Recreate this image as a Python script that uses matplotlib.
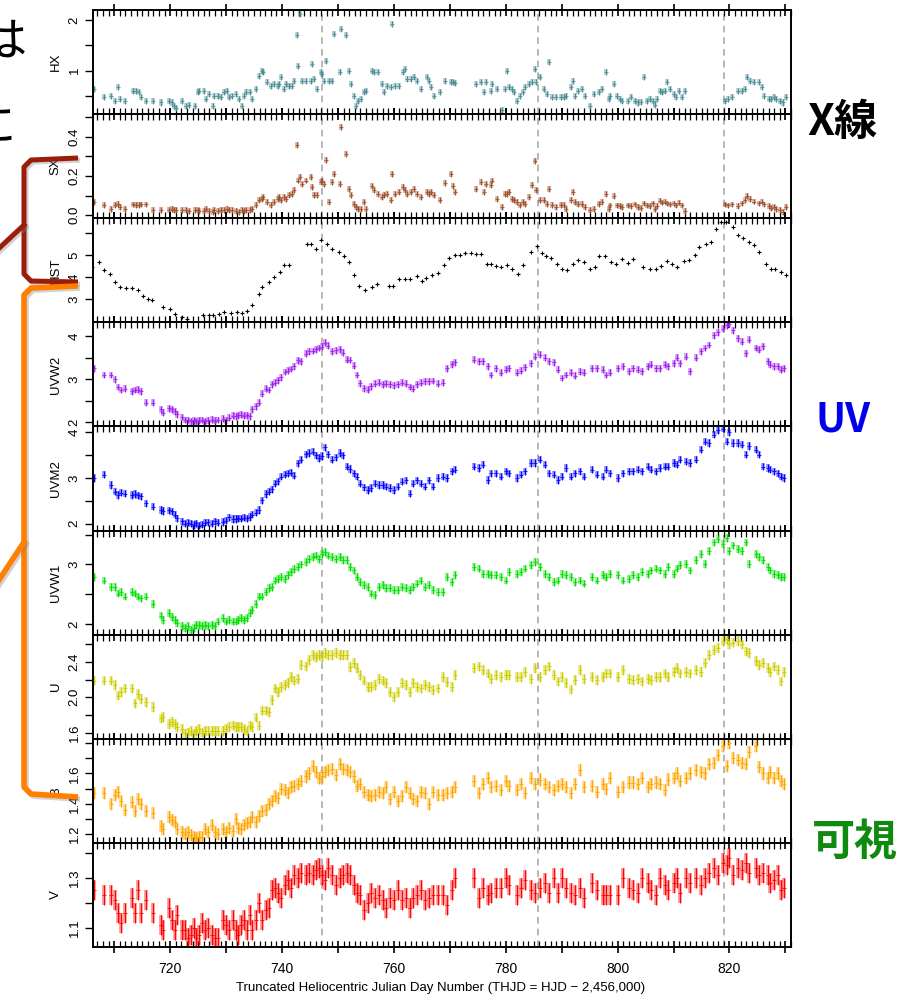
import matplotlib
matplotlib.use('Agg')
import matplotlib.pyplot as plt
import matplotlib.patheffects as pe
from matplotlib.ticker import MultipleLocator

plt.rcParams['font.family'] = ['Liberation Sans', 'DejaVu Sans']

# ---- X-ray (HX / SX share the same epochs) ----
t_x = [706.4, 708.2, 709.5, 710.2, 710.6, 711.0, 712.0, 713.3, 713.9, 714.5,
       714.8, 715.7, 717.0, 718.3, 719.8, 720.3, 720.7, 721.1, 722.2, 722.8,
       723.4, 724.5, 724.9, 725.2, 726.1, 726.4, 727.0, 727.6, 727.9, 728.5,
       729.1, 729.6, 730.1, 730.5, 731.1, 731.7, 732.3, 732.8, 733.2, 733.6,
       734.2, 734.7, 735.3, 735.9, 736.4, 736.6, 737.4, 738.0, 738.6, 739.2,
       739.5, 739.9, 740.4, 740.7, 741.3, 741.7, 742.1, 742.6, 742.9, 743.3,
       743.6, 744.3, 745.1, 745.4, 745.8, 746.3, 746.9, 747.1, 747.5, 747.9,
       748.4, 748.9, 749.3, 750.3, 750.5, 751.4, 751.9, 752.3, 752.9, 753.2,
       753.6, 754.1, 754.7, 755.1, 756.0, 756.4, 757.2, 757.9, 758.2, 758.8,
       759.4, 759.7, 760.2, 760.9, 761.6, 762.0, 762.4, 763.0, 763.6, 764.2,
       764.8, 765.9, 766.3, 766.6, 767.2, 768.3, 769.2, 770.2, 770.5, 770.9,
       774.6, 775.5, 776.1, 776.4, 777.3, 777.6, 778.5, 779.3, 779.8, 780.3,
       780.5, 781.1, 781.4, 782.0, 782.6, 783.0, 783.5, 784.1, 784.7, 785.2,
       785.4, 786.2, 786.8, 787.4, 787.7, 788.3, 788.9, 789.8, 790.4, 790.7,
       791.6, 792.0, 792.4, 793.0, 793.6, 794.2, 795.1, 795.7, 796.6, 797.2,
       797.9, 798.4, 798.7, 799.3, 799.9, 800.5, 800.8, 801.8, 802.4, 803.1,
       803.7, 804.2, 804.8, 805.2, 805.8, 806.4, 806.7, 807.0, 807.6, 807.9,
       808.4, 808.9, 809.4, 810.0, 810.4, 810.9, 811.5, 812.1,
       819.2, 819.8, 820.4, 821.6, 822.2, 822.8, 823.1, 823.7, 824.3, 825.2,
       825.8, 826.2, 827.0, 827.5, 828.0, 828.4, 829.0, 829.6, 830.1]

hx = [0.63, 0.47, 0.50, 0.40, 0.67, 0.43, 0.40, 0.60, 0.60, 0.57,
      0.47, 0.40, 0.40, 0.37, 0.40, 0.37, 0.30, 0.27, 0.40, 0.30,
      0.32, 0.30, 0.57, 0.60, 0.60, 0.43, 0.53, 0.30, 0.50, 0.50,
      0.47, 0.57, 0.60, 0.47, 0.50, 0.53, 0.43, 0.30, 0.50, 0.57,
      0.57, 0.43, 0.63, 0.90, 1.00, 0.97, 0.77, 0.70, 0.73, 0.70,
      0.73, 0.87, 0.63, 0.73, 0.70, 0.70, 0.80, 1.70, 1.10, 2.12,
      0.80, 0.80, 0.80, 1.13, 0.83, 0.63, 0.97, 0.93, 0.80, 1.20,
      0.80, 0.80, 1.73, 0.97, 1.83, 1.70, 1.00, 0.73, 0.50, 0.30,
      0.40, 0.43, 0.57, 0.60, 1.00, 0.97, 0.97, 0.73, 0.57, 0.70,
      0.67, 1.93, 0.70, 0.70, 0.97, 1.03, 0.83, 0.83, 0.88, 0.80,
      0.63, 0.88, 0.80, 0.67, 0.50, 0.57, 0.80, 0.77, 0.77, 0.75,
      0.73, 0.77, 0.57, 0.77, 0.60, 0.73, 0.63, 0.23, 0.63, 1.00,
      0.67, 0.63, 0.57, 0.40, 0.50, 0.57, 0.67, 0.73, 0.77, 1.03,
      0.77, 0.87, 0.63, 0.53, 1.17, 0.47, 0.47, 0.47, 0.47, 0.50,
      0.67, 0.80, 0.50, 0.60, 0.63, 0.50, 0.30, 0.53, 0.57, 0.63,
      0.97, 0.43, 0.50, 0.73, 0.50, 0.43, 0.40, 0.40, 0.47, 0.40,
      0.37, 0.38, 0.87, 0.40, 0.43, 0.40, 0.33, 0.43, 0.60, 0.57,
      0.60, 0.77, 0.63, 0.53, 0.47, 0.60, 0.47, 0.60,
      0.40, 0.43, 0.47, 0.60, 0.60, 0.63, 0.87, 0.80, 0.77, 0.77,
      0.67, 0.50, 0.43, 0.43, 0.47, 0.43, 0.40, 0.37, 0.47]

sx = [.068, .051, .034, .051, .059, .042, .034, .055, .051, .051,
      .055, .055, .029, .029, .029, .034, .025, .025, .029, .025,
      .022, .025, .025, .022, .022, .034, .020, .017, .029, .022,
      .029, .025, .034, .029, .025, .022, .017, .025, .022, .029,
      .025, .034, .051, .076, .084, .093, .068, .051, .068, .084,
      .093, .076, .093, .084, .101, .110, .127, .360, .177, .194,
      .160, .177, .194, .144, .101, .101, .169, .177, .160, .280,
      .068, .169, .210, .160, .450, .310, .135, .101, .059, .042,
      .034, .034, .068, .034, .150, .127, .110, .093, .101, .110,
      .076, .210, .110, .118, .144, .127, .110, .118, .135, .110,
      .093, .118, .110, .118, .101, .076, .164, .210, .150, .120,
      .135, .169, .118, .160, .152, .177, .084, .042, .110, .110,
      .118, .084, .076, .068, .051, .068, .059, .093, .152, .278,
      .127, .076, .076, .059, .135, .051, .042, .051, .051, .034,
      .076, .118, .068, .059, .059, .042, .025, .034, .059, .068,
      .110, .034, .050, .100, .050, .045, .040, .050, .045, .055,
      .040, .035, .060, .050, .045, .060, .030, .045, .075, .065,
      .070, .060, .055, .060, .050, .065, .050, .020,
      .055, .050, .055, .045, .060, .080, .100, .085, .070, .060,
      .070, .055, .045, .035, .040, .030, .025, .015, .040]

# ---- HST ----
t_hst = [706.1, 707.2, 708.2, 709.2, 710.2, 711.1, 712.1, 713.2, 714.2, 715.1,
         716.0, 716.7, 718.7, 720.0, 720.9, 722.1, 723.0, 725.9, 726.9, 727.7,
         728.8, 729.6, 730.8, 731.9, 732.8, 733.7, 734.7, 735.8, 736.4, 737.7,
         738.6, 739.6, 740.4, 741.3, 744.4, 745.1, 746.0, 747.0, 748.1, 749.0,
         750.1, 751.1, 751.9, 752.9, 753.8, 754.9, 756.0, 756.9, 759.1, 759.9,
         760.9, 762.0, 762.9, 764.1, 765.0, 765.8, 766.9, 767.9, 768.9, 769.9,
         770.9, 771.8, 772.8, 773.8, 774.6, 775.5, 776.7, 777.3, 778.3, 779.2,
         780.2, 781.1, 782.1, 783.1, 784.5, 785.5, 786.5, 787.2, 788.0, 789.1,
         790.1, 791.0, 792.0, 792.9, 793.9, 795.0, 795.9, 796.6, 797.8, 798.9,
         799.7, 800.8, 801.8, 802.7, 804.6, 805.8, 806.8, 807.8, 808.8, 809.7,
         810.6, 811.8, 812.7, 813.9, 814.6, 815.8, 816.7, 817.6, 818.5, 819.3,
         820.7, 821.6, 822.5, 823.5, 824.3, 825.3, 826.5, 827.4, 828.1, 829.2, 830.1]

hst = [4.48, 4.71, 4.33, 4.15, 3.76, 3.55, 3.50, 3.53, 3.44, 3.14,
       3.03, 2.98, 2.65, 2.57, 2.35, 2.17, 2.12, 2.27, 2.27, 2.27,
       2.35, 2.42, 2.38, 2.42, 2.38, 2.45, 2.73, 3.23, 3.56, 3.79,
       4.02, 4.24, 4.55, 4.55, 5.49, 5.53, 5.30, 5.71, 5.53, 5.30,
       5.15, 4.95, 4.70, 4.09, 3.59, 3.41, 3.56, 3.71, 3.59, 3.59,
       3.90, 3.94, 3.94, 4.05, 3.83, 3.97, 4.09, 4.17, 4.55, 4.88,
       5.00, 5.00, 5.08, 5.12, 5.05, 5.05, 4.62, 4.62, 4.52, 4.45,
       4.55, 4.36, 4.15, 4.55, 5.15, 5.41, 5.08, 4.95, 4.89, 4.62,
       4.39, 4.33, 4.60, 4.80, 4.70, 4.39, 4.48, 4.95, 4.95, 4.70,
       4.62, 4.85, 4.65, 4.83, 4.48, 4.36, 4.36, 4.50, 4.74, 4.62,
       4.48, 4.74, 4.80, 5.03, 5.35, 5.53, 5.60, 6.21, 6.52, 6.52,
       6.26, 5.91, 5.76, 5.60, 5.45, 5.15, 4.62, 4.39, 4.39, 4.24, 4.09]

# ---- Swift UVOT (all six filters share the epochs) ----
t_uv = [706.4, 708.2, 709.5, 710.2, 710.7, 711.2, 711.9, 713.2, 713.7, 714.2,
        714.7, 715.7, 717.0, 718.3, 718.7, 719.8, 720.3, 720.8, 721.3, 722.2,
        722.7, 723.2, 723.7, 724.2, 724.7, 725.2, 725.7, 726.2, 726.8, 727.4,
        728.0, 728.6, 729.4, 730.0, 730.6, 731.2, 731.7, 732.2, 732.7, 733.2,
        733.7, 734.2, 734.7, 735.3, 735.9, 736.5, 737.1, 737.6, 738.2, 738.7,
        739.3, 739.9, 740.5, 741.0, 741.6, 742.2, 742.8, 743.4, 744.2, 744.9,
        745.5, 746.0, 746.6, 747.1, 747.7, 748.3, 749.0, 749.6, 750.3, 750.9,
        751.6, 752.2, 752.8, 753.4, 754.0, 754.6, 755.3, 755.9, 756.6, 757.3,
        758.0, 758.6, 759.3, 760.0, 760.7, 761.4, 762.1, 762.8, 763.5, 764.2,
        764.9, 765.6, 766.3, 767.0, 767.8, 768.7, 769.5, 770.3, 771.0, 774.4,
        775.2, 775.9, 776.8, 777.4, 778.3, 779.2, 780.0, 780.6, 782.0, 782.8,
        783.5, 784.6, 785.3, 786.2, 787.0, 787.8, 788.6, 789.3, 790.0, 790.8,
        791.6, 792.4, 793.3, 794.0, 795.5, 796.4, 797.3, 798.0, 798.6, 800.0,
        801.0, 802.0, 802.8, 803.6, 804.4, 805.4, 806.0, 806.8, 807.6, 808.4,
        809.0, 810.0, 810.6, 811.2, 812.3, 813.0, 814.0, 814.9, 815.6, 816.3,
        817.2, 818.0, 818.8, 819.5, 820.0, 820.6, 821.5, 822.2, 822.9, 823.5,
        824.7, 825.3, 826.0, 826.8, 827.3, 828.0, 828.7, 829.3, 829.8]

uvw2 = [3.26, 3.10, 3.10, 3.00, 2.82, 2.75, 2.78, 2.72, 2.75, 2.76,
        2.72, 2.45, 2.45, 2.30, 2.22, 2.32, 2.30, 2.25, 2.18, 2.12,
        2.05, 2.05, 2.02, 2.04, 2.02, 2.03, 2.05, 2.02, 2.04, 2.06,
        2.03, 2.05, 2.08, 2.04, 2.10, 2.15, 2.14, 2.16, 2.17, 2.15,
        2.16, 2.14, 2.30, 2.37, 2.45, 2.66, 2.78, 2.75, 2.88, 2.92,
        2.98, 3.05, 3.17, 3.20, 3.24, 3.30, 3.44, 3.42, 3.60, 3.65,
        3.66, 3.70, 3.73, 3.76, 3.85, 3.78, 3.65, 3.68, 3.70, 3.62,
        3.46, 3.45, 3.32, 3.10, 2.91, 2.79, 2.76, 2.84, 2.90, 2.92,
        2.88, 2.90, 2.88, 2.86, 2.88, 2.92, 2.90, 2.82, 2.78, 2.88,
        2.92, 2.95, 2.95, 2.96, 2.90, 2.92, 3.26, 3.35, 3.40, 3.46,
        3.42, 3.42, 3.30, 3.10, 3.26, 3.15, 3.22, 3.26, 3.15, 3.20,
        3.28, 3.37, 3.53, 3.57, 3.50, 3.42, 3.40, 3.22, 3.03, 3.10,
        3.15, 3.08, 3.18, 3.15, 3.26, 3.26, 3.22, 3.10, 3.15, 3.26,
        3.30, 3.19, 3.26, 3.22, 3.19, 3.30, 3.34, 3.26, 3.26, 3.34,
        3.30, 3.37, 3.50, 3.37, 3.53, 3.19, 3.50, 3.65, 3.73, 3.80,
        4.03, 4.10, 4.18, 4.26, 4.30, 4.14, 3.96, 3.88, 3.61, 3.92,
        3.73, 3.69, 3.77, 3.42, 3.34, 3.30, 3.30, 3.22, 3.26]

uvm2 = [3.00, 3.07, 2.85, 2.70, 2.63, 2.68, 2.66, 2.63, 2.65, 2.62,
        2.60, 2.45, 2.37, 2.30, 2.28, 2.29, 2.27, 2.20, 2.12, 2.05,
        2.00, 2.02, 2.00, 1.97, 2.01, 1.96, 1.98, 2.02, 2.03, 2.00,
        2.05, 2.02, 2.04, 2.07, 2.14, 2.10, 2.10, 2.12, 2.11, 2.13,
        2.12, 2.15, 2.20, 2.24, 2.30, 2.51, 2.65, 2.70, 2.75, 2.88,
        2.93, 3.03, 3.07, 3.10, 3.12, 3.05, 3.32, 3.40, 3.52, 3.55,
        3.58, 3.50, 3.44, 3.48, 3.67, 3.52, 3.40, 3.45, 3.55, 3.50,
        3.25, 3.20, 3.10, 3.03, 2.88, 2.80, 2.74, 2.78, 2.88, 2.85,
        2.85, 2.81, 2.78, 2.74, 2.81, 2.92, 2.95, 2.66, 2.88, 2.95,
        2.88, 2.81, 2.95, 2.81, 3.00, 3.03, 3.00, 3.15, 3.18, 3.25,
        3.22, 3.29, 2.96, 3.10, 3.10, 3.03, 3.15, 3.10, 3.00, 3.07,
        3.15, 3.33, 3.33, 3.40, 3.29, 3.10, 3.07, 2.96, 3.03, 3.22,
        3.03, 3.10, 3.15, 3.03, 3.18, 3.07, 3.03, 3.18, 3.10, 3.00,
        3.10, 3.15, 3.15, 3.18, 3.15, 3.25, 3.18, 3.15, 3.22, 3.25,
        3.25, 3.33, 3.29, 3.40, 3.36, 3.33, 3.40, 3.62, 3.80, 3.77,
        3.95, 4.05, 4.08, 3.80, 4.00, 3.77, 3.77, 3.73, 3.51, 3.70,
        3.62, 3.51, 3.25, 3.22, 3.18, 3.15, 3.10, 3.03, 3.00]

uvw1 = [2.79, 2.73, 2.62, 2.62, 2.51, 2.54, 2.46, 2.54, 2.51, 2.46,
        2.43, 2.46, 2.34, 2.14, 2.07, 2.18, 2.12, 2.07, 2.01, 1.96,
        1.93, 1.96, 1.90, 1.93, 1.98, 1.98, 1.96, 1.98, 1.96, 1.98,
        1.96, 2.04, 2.10, 2.04, 2.07, 2.04, 2.04, 2.07, 2.10, 2.07,
        2.10, 2.18, 2.23, 2.34, 2.46, 2.46, 2.54, 2.60, 2.62, 2.73,
        2.76, 2.79, 2.76, 2.82, 2.87, 2.92, 2.96, 3.00, 3.04, 3.09,
        3.12, 3.15, 3.09, 3.18, 3.21, 3.15, 3.12, 3.09, 3.12, 3.07,
        3.07, 2.96, 2.90, 2.79, 2.71, 2.65, 2.62, 2.51, 2.49, 2.62,
        2.65, 2.60, 2.60, 2.57, 2.57, 2.62, 2.60, 2.57, 2.62, 2.68,
        2.73, 2.62, 2.65, 2.57, 2.54, 2.54, 2.79, 2.71, 2.82, 2.96,
        2.93, 2.84, 2.84, 2.82, 2.82, 2.79, 2.73, 2.87, 2.84, 2.87,
        2.93, 2.99, 3.04, 2.96, 2.84, 2.79, 2.71, 2.73, 2.84, 2.82,
        2.79, 2.71, 2.73, 2.68, 2.79, 2.73, 2.82, 2.79, 2.84, 2.82,
        2.73, 2.76, 2.82, 2.79, 2.87, 2.84, 2.90, 2.93, 2.90, 2.84,
        2.96, 2.84, 2.93, 2.99, 3.01, 2.90, 3.07, 3.18, 3.01, 3.23,
        3.37, 3.43, 3.34, 3.45, 3.23, 3.32, 3.26, 3.23, 3.37, 3.01,
        3.18, 3.12, 3.07, 2.96, 2.90, 2.84, 2.82, 2.79, 2.79]

u_mag = [2.19, 2.19, 2.19, 2.14, 2.02, 2.06, 2.10, 2.10, 1.93, 2.04,
         1.98, 1.95, 1.89, 1.76, 1.78, 1.70, 1.72, 1.70, 1.66, 1.64,
         1.59, 1.60, 1.62, 1.59, 1.62, 1.64, 1.60, 1.62, 1.62, 1.62,
         1.62, 1.62, 1.62, 1.64, 1.66, 1.68, 1.66, 1.66, 1.66, 1.64,
         1.62, 1.68, 1.66, 1.77, 1.68, 1.85, 1.85, 1.83, 1.97, 2.10,
         2.06, 2.12, 2.14, 2.16, 2.23, 2.19, 2.21, 2.37, 2.35, 2.42,
         2.48, 2.46, 2.48, 2.46, 2.50, 2.48, 2.48, 2.50, 2.48, 2.48,
         2.48, 2.34, 2.39, 2.33, 2.25, 2.19, 2.12, 2.12, 2.14, 2.21,
         2.19, 2.16, 2.06, 2.00, 2.06, 2.16, 2.14, 2.06, 2.16, 2.12,
         2.10, 2.14, 2.12, 2.08, 2.10, 2.23, 2.17, 2.12, 2.25, 2.33,
         2.35, 2.31, 2.27, 2.21, 2.25, 2.23, 2.25, 2.25, 2.23, 2.23,
         2.29, 2.21, 2.33, 2.23, 2.31, 2.35, 2.25, 2.18, 2.23, 2.16,
         2.09, 2.20, 2.31, 2.21, 2.23, 2.20, 2.23, 2.27, 2.27, 2.23,
         2.31, 2.21, 2.20, 2.21, 2.18, 2.21, 2.20, 2.23, 2.23, 2.27,
         2.23, 2.29, 2.33, 2.27, 2.29, 2.27, 2.31, 2.29, 2.39, 2.48,
         2.54, 2.56, 2.64, 2.66, 2.60, 2.62, 2.64, 2.60, 2.52, 2.50,
         2.41, 2.37, 2.39, 2.33, 2.29, 2.35, 2.31, 2.18, 2.29]

b_mag = [1.47, 1.47, 1.40, 1.46, 1.48, 1.42, 1.36, 1.41, 1.35, 1.43,
         1.40, 1.35, 1.34, 1.25, 1.23, 1.31, 1.29, 1.28, 1.23, 1.21,
         1.20, 1.21, 1.19, 1.18, 1.17, 1.18, 1.18, 1.23, 1.21, 1.26,
         1.21, 1.20, 1.23, 1.21, 1.24, 1.22, 1.30, 1.24, 1.23, 1.26,
         1.27, 1.28, 1.31, 1.28, 1.32, 1.35, 1.36, 1.40, 1.42, 1.45,
         1.44, 1.50, 1.49, 1.47, 1.51, 1.52, 1.53, 1.55, 1.58, 1.60,
         1.65, 1.61, 1.57, 1.58, 1.61, 1.62, 1.63, 1.59, 1.66, 1.63,
         1.62, 1.61, 1.58, 1.52, 1.53, 1.48, 1.46, 1.45, 1.46, 1.48,
         1.47, 1.51, 1.43, 1.48, 1.42, 1.45, 1.51, 1.47, 1.43, 1.42,
         1.48, 1.47, 1.40, 1.48, 1.46, 1.46, 1.47, 1.48, 1.51, 1.55,
         1.47, 1.53, 1.57, 1.51, 1.52, 1.49, 1.55, 1.52, 1.49, 1.53,
         1.47, 1.57, 1.53, 1.56, 1.53, 1.51, 1.49, 1.52, 1.53, 1.51,
         1.47, 1.53, 1.62, 1.51, 1.52, 1.48, 1.53, 1.50, 1.57, 1.48,
         1.51, 1.54, 1.54, 1.53, 1.57, 1.51, 1.53, 1.54, 1.53, 1.49,
         1.56, 1.57, 1.60, 1.55, 1.57, 1.60, 1.62, 1.61, 1.60, 1.66,
         1.67, 1.72, 1.78, 1.65, 1.80, 1.70, 1.69, 1.67, 1.66, 1.74,
         1.78, 1.64, 1.60, 1.57, 1.61, 1.57, 1.60, 1.55, 1.53]

v_mag = [1.25, 1.23, 1.23, 1.21, 1.16, 1.12, 1.16, 1.22, 1.16, 1.25,
         1.16, 1.21, 1.16, 1.11, 1.09, 1.18, 1.13, 1.09, 1.15, 1.09,
         1.09, 1.06, 1.07, 1.10, 1.06, 1.07, 1.12, 1.09, 1.10, 1.07,
         1.06, 1.06, 1.13, 1.11, 1.09, 1.13, 1.09, 1.07, 1.11, 1.13,
         1.09, 1.15, 1.09, 1.13, 1.20, 1.13, 1.17, 1.18, 1.25, 1.26,
         1.24, 1.22, 1.27, 1.29, 1.26, 1.31, 1.30, 1.32, 1.31, 1.32,
         1.31, 1.33, 1.34, 1.31, 1.29, 1.34, 1.31, 1.27, 1.30, 1.31,
         1.32, 1.31, 1.27, 1.24, 1.23, 1.17, 1.20, 1.24, 1.22, 1.23,
         1.21, 1.18, 1.22, 1.21, 1.25, 1.21, 1.22, 1.18, 1.22, 1.23,
         1.25, 1.21, 1.22, 1.23, 1.23, 1.23, 1.19, 1.25, 1.30, 1.30,
         1.22, 1.26, 1.23, 1.24, 1.26, 1.26, 1.30, 1.27, 1.23, 1.26,
         1.29, 1.25, 1.24, 1.26, 1.28, 1.24, 1.30, 1.24, 1.30, 1.26,
         1.24, 1.23, 1.26, 1.22, 1.28, 1.25, 1.23, 1.23, 1.23, 1.23,
         1.30, 1.26, 1.25, 1.24, 1.30, 1.28, 1.25, 1.23, 1.30, 1.27,
         1.25, 1.28, 1.30, 1.24, 1.30, 1.28, 1.30, 1.27, 1.30, 1.32,
         1.34, 1.31, 1.36, 1.35, 1.38, 1.31, 1.34, 1.33, 1.36, 1.32,
         1.34, 1.31, 1.32, 1.31, 1.28, 1.29, 1.31, 1.25, 1.26]

flare_days = [747.1, 785.7, 819.0]

# name, times, values, colour, error, ylim, yticks, yticklabels
panels = [
    ('HX', t_x, hx, '#4e8f97', 0.06, (0.14, 2.2), [0.5, 1, 1.5, 2], ['', '1', '', '2']),
    ('SX', t_x, sx, '#a0522d', 0.015, (-0.015, 0.515), [0, 0.1, 0.2, 0.3, 0.4, 0.5],
     ['0.0', '', '0.2', '', '0.4', '']),
    ('HST', t_hst, hst, 'black', 0.04, (1.95, 6.68), [3, 4, 5, 6], ['3', '4', '5', '']),
    ('UVW2', t_uv, uvw2, '#a020f0', 0.08, (1.9, 4.33), [2, 2.5, 3, 3.5, 4], ['2', '', '3', '', '4']),
    ('UVM2', t_uv, uvm2, '#0000ff', 0.08, (1.85, 4.13), [2, 2.5, 3, 3.5, 4], ['2', '', '3', '', '4']),
    ('UVW1', t_uv, uvw1, '#00e000', 0.065, (1.82, 3.57), [2, 2.5, 3, 3.5], ['2', '', '3', '']),
    ('U', t_uv, u_mag, '#cdcd00', 0.055, (1.53, 2.71), [1.6, 1.8, 2.0, 2.2, 2.4, 2.6],
     ['1.6', '', '2.0', '', '2.4', '']),
    ('B', t_uv, b_mag, '#ffa500', 0.04, (1.14, 1.83), [1.2, 1.3, 1.4, 1.5, 1.6, 1.7, 1.8],
     ['1.2', '', '1.4', '', '1.6', '', '']),
    ('V', t_uv, v_mag, '#ff0000', 0.04, (1.024, 1.44), [1.1, 1.2, 1.3, 1.4], ['1.1', '', '1.3', '']),
]

W, H = 915, 997
fig = plt.figure(figsize=(W / 100, H / 100), dpi=100)

x0, x1 = 93, 791
y_top, y_bot = 10, 947
ph = (y_bot - y_top) / len(panels)

for i, (name, t, v, col, err, ylim, yt, ytl) in enumerate(panels):
    top = y_top + i * ph
    last = (i == len(panels) - 1)
    ax = fig.add_axes([x0 / W, 1 - (top + ph) / H, (x1 - x0) / W, ph / H])
    for xd in flare_days:
        ax.axvline(xd, color='#aaaaaa', ls=(0, (4, 3)), lw=1.2, zorder=0)
    if name == 'HST':
        ax.errorbar(t, v, yerr=err, fmt='+', color=col, ms=3.5, mew=0.8,
                    elinewidth=0.8, capsize=0)
    else:
        # wide translucent bar + thin core, like the original error bars
        ax.errorbar(t, v, yerr=err, fmt='none', ecolor=col, elinewidth=2.6,
                    alpha=0.45, capsize=0)
        ax.errorbar(t, v, yerr=err, fmt='+', color=col, ms=3, mew=0.6,
                    elinewidth=0.7, capsize=0)
    ax.set_xlim(706.2, 831.0)
    ax.set_ylim(*ylim)
    ax.set_yticks(yt)
    ax.set_yticklabels(ytl, rotation=90, va='center', fontsize=9.5)
    ax.xaxis.set_major_locator(MultipleLocator(10))
    ax.xaxis.set_minor_locator(MultipleLocator(1))
    ax.tick_params(axis='x', which='major', direction='inout', length=9, width=1.2,
                   top=True, bottom=True, labelbottom=last, labelsize=10, pad=6)
    ax.tick_params(axis='x', which='minor', direction='in', length=4, width=0.9,
                   top=True, bottom=True)
    ax.tick_params(axis='y', direction='out', length=6, width=1.0, pad=3, right=False)
    if last:
        # labels only every 20 days, ticks every 10
        ax.set_xticklabels([str(int(x)) if int(x) % 20 == 0 else ''
                            for x in ax.get_xticks()])
    for s in ax.spines.values():
        s.set_linewidth(1.4)
    ax.set_ylabel(name, fontsize=9.5)
    ax.yaxis.set_label_coords(-0.045, 0.5)

fig.text(441 / W, 1 - 988 / H,
         'Truncated Heliocentric Julian Day Number (THJD = HJD \u2212 2,456,000)',
         ha='center', va='center', fontsize=9.5)

# slide decorations drawn over the chart (pixel coordinates)
ov = fig.add_axes([0, 0, 1, 1], zorder=10)
ov.set_xlim(0, W)
ov.set_ylim(H, 0)
ov.axis('off')
ov.patch.set_alpha(0)

shadow = [pe.SimpleLineShadow(offset=(1.5, -1.5), alpha=0.35, shadow_color='gray'),
          pe.Normal()]
red = '#9b1c0a'
orange = '#ff7f00'
ov.plot([78, 31, 24, 24, 31, 78], [158, 160, 167, 274, 281, 282], color=red, lw=3.6,
        solid_joinstyle='round', solid_capstyle='butt', path_effects=shadow)
ov.plot([24, -5], [225, 252], color=red, lw=3.6, path_effects=shadow)
ov.plot([78, 31, 24, 24, 31, 78], [286, 288, 295, 787, 794, 797], color=orange, lw=4.0,
        solid_joinstyle='round', solid_capstyle='butt', path_effects=shadow)
ov.plot([24, -5], [542, 586], color=orange, lw=4.0, path_effects=shadow)

# slide body text that runs off the left edge in the original screenshot
jp = ['Noto Sans CJK JP', 'DejaVu Sans']
ov.text(27, 42, '\u306f', family=jp, fontsize=34, ha='right', va='center', color='black')
ov.text(15, 128, '\u306b', family=jp, fontsize=34, ha='right', va='center', color='black')

ov.text(842, 122, 'X\u7dda', family=jp, fontsize=31, fontweight='bold',
        ha='center', va='center', color='black')
ov.text(843, 420, 'UV', family=jp, fontsize=29, fontweight='bold',
        ha='center', va='center', color='#0000ee')
ov.text(855, 842, '\u53ef\u8996', family=jp, fontsize=31, fontweight='bold',
        ha='center', va='center', color='#0f8a0f')

fig.savefig('out.png', dpi=100)
